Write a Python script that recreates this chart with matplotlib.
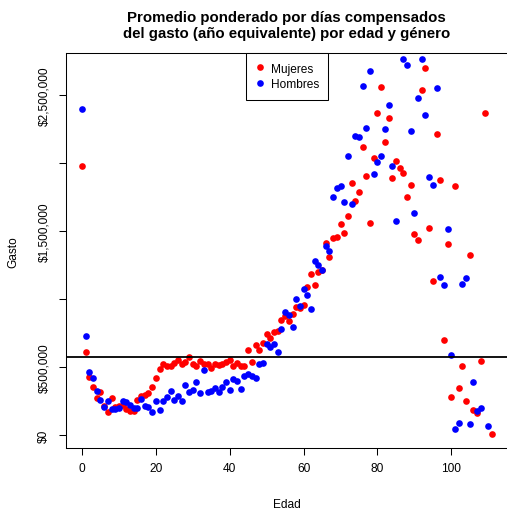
import numpy as np
import matplotlib
matplotlib.use("Agg")
import matplotlib.pyplot as plt
from matplotlib.ticker import FixedLocator, FixedFormatter

nan = np.nan

edad = np.arange(0, 112)

# gasto promedio, mujeres
mujeres = [1978000, 608000, 429000, 353000, 272000, 314000, 216000, 172000, 272000, 206000,
           216000, 223000, 191000, 179000, 179000, 260000, 284000, 296000, 306000, 350000,
           419000, 485000, 522000, 510000, 510000, 527000, 551000, 522000, 534000, 576000,
           522000, 510000, 542000, 522000, 522000, 495000, 522000, 515000, 522000, 539000,
           552000, 510000, 527000, 510000, 510000, 627000, 539000, 664000, 627000, 676000,
           740000, 713000, 760000, 765000, 848000, 878000, 841000, 890000, 944000, 932000,
           956000, 1086000, 1184000, 1106000, 1196000, 1210000, 1415000, 1310000, 1446000, 1453000,
           1554000, 1483000, 1613000, 1853000, 1718000, 1790000, 2120000, 1907000, 1556000, 2035000,
           2370000, 2556000, 2157000, 2330000, 1890000, 2017000, 1960000, 1930000, 1748000, 1838000,
           1478000, 1434000, 2540000, 2700000, 1522000, 1135000, 2210000, 1877000, 698000, 1404000,
           282000, 1829000, 343000, 510000, 248000, 1324000, 184000, 160000, 544000, 2365000,
           nan, 7000]

# gasto promedio, hombres
hombres = [2397000, 728000, 466000, 419000, 324000, 260000, 204000, 248000, 191000, 191000,
           199000, 252000, 240000, 223000, 199000, 199000, 265000, 211000, 204000, 172000,
           248000, 184000, 248000, 277000, 321000, 260000, 289000, 252000, 370000, 314000,
           331000, 387000, 310000, 480000, 314000, 327000, 343000, 314000, 350000, 392000,
           331000, 412000, 399000, 338000, 436000, 448000, 436000, 419000, 522000, 529000,
           669000, 647000, 669000, 612000, 779000, 907000, 881000, 792000, 1000000, 949000,
           1074000, 1030000, 926000, 1277000, 1248000, 1210000, 1387000, 1355000, 1750000, 1816000,
           1833000, 1710000, 2050000, 1700000, 2200000, 2190000, 2570000, 2260000, 2680000, 1920000,
           2010000, 2054000, 2250000, 2430000, 1980000, 1571000, nan, 2765000, 2720000, 2233000,
           1630000, 2478000, 2765000, 2350000, 1900000, 1838000, 2550000, 1160000, 1103000, 1515000,
           590000, 42000, 88000, 1108000, 1152000, 83000, 392000, 174000, 199000, nan,
           66000, nan]

promedio_general = 575000

x_ticks = [0, 20, 40, 60, 80, 100]
y_ticks = [0, 500000, 1000000, 1500000, 2000000, 2500000]
y_tick_labels = ["$0", "$500,000", "", "$1,500,000", "", "$2,500,000"]

plt.rcParams["font.family"] = ["Liberation Sans", "DejaVu Sans"]

fig = plt.figure(figsize=(5.07, 5.10), dpi=100)
ax = fig.add_axes([0.1294, 0.1190, 0.8732, 0.7751])

ax.plot(edad, mujeres, "o", color="#ff0000", markersize=4.8, markeredgewidth=0, label="Mujeres")
ax.plot(edad, hombres, "o", color="#0000ff", markersize=4.8, markeredgewidth=0, label="Hombres")
ax.axhline(promedio_general, color="black", linewidth=1.3)

ax.set_xlim(-4.44, 115.44)
ax.set_ylim(-98000, 2809000)

ax.xaxis.set_major_locator(FixedLocator(x_ticks))
ax.yaxis.set_major_locator(FixedLocator(y_ticks))
ax.yaxis.set_major_formatter(FixedFormatter(y_tick_labels))

ax.tick_params(axis="both", direction="out", length=5, width=0.75, labelsize=8.6, colors="black")
ax.tick_params(axis="x", pad=5)
ax.tick_params(axis="y", pad=6)
for lab in ax.get_yticklabels():
    lab.set_rotation(90)
    lab.set_va("center")

for s in ax.spines.values():
    s.set_linewidth(0.75)
    s.set_color("black")

ax.set_xlabel("Edad", fontsize=8.6)
ax.xaxis.set_label_coords(0.5, -0.14)
ax.xaxis.label.set_va("center")
ax.set_ylabel("Gasto", fontsize=8.6)
ax.yaxis.set_label_coords(-0.117, 0.5)
ax.yaxis.label.set_va("center")

fig.text(0.565, 1 - 26 / 510,
         "Promedio ponderado por días compensados\ndel gasto (año equivalente) por edad y género",
         ha="center", va="center", fontsize=10.8, fontweight="bold", linespacing=1.15)

leg = ax.legend(loc="upper center", borderaxespad=0, fancybox=False, edgecolor="black",
                framealpha=1, fontsize=8.6, handlelength=0.8, handletextpad=0.5,
                borderpad=0.8, labelspacing=0.3)
leg.get_frame().set_linewidth(0.75)

fig.savefig("out.png", dpi=100)
